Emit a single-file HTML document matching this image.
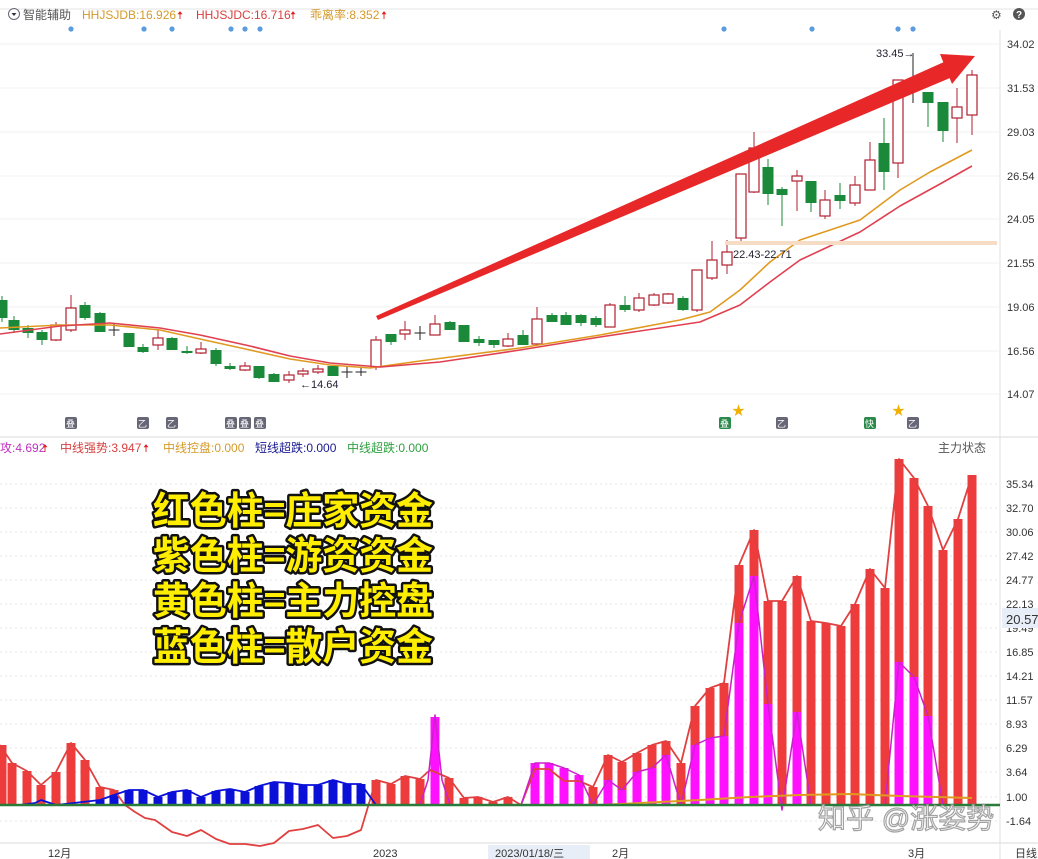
<!DOCTYPE html>
<html><head><meta charset="utf-8"><style>
html,body{margin:0;padding:0;background:#fff;width:1038px;height:859px;overflow:hidden}
svg{display:block;font-family:"Liberation Sans","Noto Sans CJK SC",sans-serif}
</style></head><body>
<svg id="s" width="1038" height="859" xmlns="http://www.w3.org/2000/svg">
<rect width="1038" height="859" fill="#fff"/>
<line x1="0" y1="9" x2="1038" y2="9" stroke="#e4e4e4"/>
<line x1="0" y1="437" x2="1038" y2="437" stroke="#d8d8d8"/>
<line x1="0" y1="843" x2="1038" y2="843" stroke="#d8d8d8"/>
<line x1="1000" y1="30" x2="1000" y2="859" stroke="#e0e0e0"/>
<g id="grid"></g>
<circle cx="14" cy="14" r="5.5" fill="none" stroke="#667"/><path d="M11.5 13 L16.5 13 L14 16 Z" fill="#334"/>
<text x="23" y="19" font-size="12" fill="#555">智能辅助</text>
<text x="82" y="19" font-size="12" fill="#d49a2a">HHJSJDB:16.926</text><text x="177" y="19" font-size="11" fill="#e02020">🠅</text>
<text x="196" y="19" font-size="12" fill="#d84040">HHJSJDC:16.716</text><text x="290" y="19" font-size="11" fill="#e02020">🠅</text>
<text x="310" y="19" font-size="12" fill="#d49a2a">乖离率:8.352</text><text x="381" y="19" font-size="11" fill="#e02020">🠅</text>
<g font-size="12" fill="#555"><text x="991" y="19">⚙</text></g>
<circle cx="1019" cy="14" r="6" fill="#555"/><text x="1016" y="18" font-size="10" fill="#fff" font-weight="bold">?</text>
<g id="stars" fill="#5b9be0" font-size="10"></g>
<g id="topg"></g>
<text x="733" y="258" font-size="11" fill="#223">22.43-22.71</text>
<text x="876" y="57" font-size="11" fill="#223">33.45→</text>
<text x="300" y="388" font-size="11" fill="#223">←14.64</text>
<rect x="725" y="241" width="272" height="4" fill="#f6dcc4"/>
<g font-size="11" fill="#333" id="yl"></g>
<text x="0" y="452" font-size="12" fill="#c030c0">攻:4.692</text><text x="42" y="452" font-size="11" fill="#e02020">🠅</text>
<text x="60" y="452" font-size="12" fill="#d84040">中线强势:3.947</text><text x="143" y="452" font-size="11" fill="#e02020">🠅</text>
<text x="163" y="452" font-size="12" fill="#d49a2a">中线控盘:0.000</text>
<text x="255" y="452" font-size="12" fill="#1a1a90">短线超跌:0.000</text>
<text x="347" y="452" font-size="12" fill="#30a040">中线超跌:0.000</text>
<text x="938" y="452" font-size="12" fill="#555">主力状态</text>
<g id="botg"></g>
<rect x="1002" y="608" width="36" height="20" fill="#e8eef8"/>
<text x="1006" y="624" font-size="13" fill="#333">20.57</text>
<g font-size="38" font-weight="bold" fill="#ffee00" stroke="#111" stroke-width="5" paint-order="stroke" stroke-linejoin="round" font-family="'Noto Sans CJK SC',sans-serif">
<text x="153" y="524" textLength="280" lengthAdjust="spacingAndGlyphs">红色柱=庄家资金</text>
<text x="153" y="569" textLength="280" lengthAdjust="spacingAndGlyphs">紫色柱=游资资金</text>
<text x="153" y="614" textLength="280" lengthAdjust="spacingAndGlyphs">黄色柱=主力控盘</text>
<text x="153" y="660" textLength="280" lengthAdjust="spacingAndGlyphs">蓝色柱=散户资金</text>
</g>
<text x="818" y="828" font-size="28" fill="#fff" stroke="#999" stroke-width="1.2" opacity="0.9">知乎 @涨姿势</text>
<g font-size="11" fill="#333">
<text x="48" y="857">12月</text><text x="373" y="857">2023</text>
<rect x="488" y="845" width="102" height="14" fill="#e8eef8"/><text x="495" y="857">2023/01/18/三</text>
<text x="612" y="857">2月</text><text x="908" y="857">3月</text><text x="1015" y="857">日线</text>
</g>
</svg>
<script>
(function(){
const NS="http://www.w3.org/2000/svg";
function el(p,t,a){const e=document.createElementNS(NS,t);for(const k in a)e.setAttribute(k,a[k]);p.appendChild(e);return e;}
const tg=document.getElementById('topg'),bg=document.getElementById('botg'),grid=document.getElementById('grid'),yl=document.getElementById('yl');
const tl=[[44,"34.02"],[88,"31.53"],[132,"29.03"],[176,"26.54"],[219,"24.05"],[263,"21.55"],[307,"19.06"],[351,"16.56"],[394,"14.07"]];
tl.forEach(([y,t])=>{el(grid,'line',{x1:0,x2:1000,y1:y,y2:y,stroke:'#f0f0f0'});el(yl,'text',{x:1007,y:y+4}).textContent=t;});
const bl=[[484,"35.34"],[508,"32.70"],[532,"30.06"],[556,"27.42"],[580,"24.77"],[604,"22.13"],[628,"19.49"],[652,"16.85"],[676,"14.21"],[700,"11.57"],[724,"8.93"],[748,"6.29"],[772,"3.64"],[797,"1.00"],[821,"-1.64"]];
bl.forEach(([y,t])=>{el(grid,'line',{x1:0,x2:1000,y1:y,y2:y,stroke:'#e6e6e6','stroke-dasharray':'2,3'});el(yl,'text',{x:1006,y:y+4}).textContent=t;});
[71,144,172,231,245,260,724,812,898,913].forEach(x=>{el(document.getElementById('stars'),'circle',{cx:x,cy:29,r:2.6,fill:'#5b9be0'});});
const C=[[2,300,318,296,322,'g'],[14,320,330,316,333,'g'],[28,328,333,325,338,'g'],[42,332,340,330,345,'g'],[56,325,340,322,341,'r'],[71,308,330,295,332,'r'],[85,305,318,302,320,'g'],[100,313,332,312,332,'g'],[114,329,331,323,336,'c'],[129,333,347,333,347,'g'],[143,347,352,344,353,'g'],[158,338,345,330,350,'r'],[172,338,350,337,350,'g'],[187,351,353,346,354,'g'],[201,349,353,342,354,'r'],[216,350,364,348,366,'g'],[230,366,369,363,370,'g'],[245,366,370,362,371,'r'],[259,366,378,366,379,'g'],[274,374,382,373,382,'g'],[289,375,380,371,383,'r'],[303,371,374,368,377,'r'],[318,369,372,365,374,'r'],[333,366,376,366,376,'g'],[347,371,373,366,378,'c'],[361,371,373,368,376,'c'],[376,340,367,336,370,'r'],[391,334,342,334,345,'g'],[405,330,334,321,340,'r'],[420,332,334,326,340,'c'],[435,324,335,315,335,'r'],[450,322,330,321,330,'g'],[464,325,342,325,342,'g'],[479,339,343,336,346,'g'],[494,340,345,340,348,'g'],[508,339,346,333,347,'r'],[523,335,345,330,345,'g'],[537,319,344,307,346,'r'],[552,315,322,313,322,'g'],[566,315,325,312,325,'g'],[581,315,323,314,326,'g'],[596,318,325,316,327,'g'],[610,305,327,303,327,'r'],[625,305,310,296,312,'g'],[639,298,310,293,312,'r'],[654,295,305,293,306,'r'],[668,294,303,293,304,'r'],[683,298,310,296,311,'g'],[697,270,310,270,312,'r'],[712,260,278,241,280,'r'],[727,252,265,240,274,'r'],[741,174,238,174,241,'r'],[754,148,192,132,193,'r'],[768,167,194,159,205,'g'],[782,189,195,187,226,'g'],[797,176,181,170,211,'r'],[811,181,203,181,212,'g'],[825,200,216,190,219,'r'],[840,195,201,183,209,'g'],[855,185,203,176,206,'r'],[870,160,190,142,190,'r'],[884,143,172,118,190,'g'],[898,80,163,80,178,'r'],[913,86,88,53,103,'c'],[928,92,103,92,127,'g'],[943,102,131,102,142,'g'],[957,107,118,88,143,'r'],[972,75,115,70,135,'r']];
C.forEach(([x,a,b,h,l,t])=>{
 if(t=='g'){el(tg,'line',{x1:x,x2:x,y1:h,y2:l,stroke:'#1a8a3a'});el(tg,'rect',{x:x-5.5,y:a,width:11,height:Math.max(b-a,2),fill:'#1a8a3a'});}
 else if(t=='c'){el(tg,'line',{x1:x,x2:x,y1:h,y2:l,stroke:'#222'});el(tg,'line',{x1:x-5.5,x2:x+5.5,y1:a+1,y2:a+1,stroke:'#222'});}
 else{el(tg,'line',{x1:x,x2:x,y1:h,y2:a,stroke:'#b02030'});el(tg,'line',{x1:x,x2:x,y1:b,y2:l,stroke:'#b02030'});el(tg,'rect',{x:x-5,y:a,width:10,height:Math.max(b-a,2),fill:'#fff',stroke:'#b02030','stroke-width':1.2});}
});
function pl(g,pts,col,w){el(g,'polyline',{points:pts.map(p=>p.join(',')).join(' '),fill:'none',stroke:col,'stroke-width':w,'stroke-linejoin':'round'});}
pl(tg,[[0,328],[60,325],[110,325],[160,330],[200,339],[250,350],[290,359],[330,365],[370,368],[420,361],[520,348],[600,335],[680,320],[710,312],[740,290],[770,262],[800,240],[860,220],[900,190],[930,172],[972,150]],'#e09a20',1.6);
pl(tg,[[0,334],[60,326],[110,323],[160,328],[200,335],[250,346],[290,356],[330,363],[380,367],[440,362],[520,350],[600,337],[700,322],[740,305],[770,282],[800,260],[860,232],[900,206],[940,184],[972,166]],'#e04050',1.6);
el(tg,'polygon',{points:'376,316 944,62 950,78 378,320',fill:'#e82828'});
el(tg,'polygon',{points:'940,54 975,56 952,84',fill:'#e82828'});
[[71,'叠'],[143,'乙'],[172,'乙'],[231,'叠'],[245,'叠'],[260,'叠'],[725,'叠'],[782,'乙'],[870,'快'],[913,'乙']].forEach(([x,t])=>{el(tg,'rect',{x:x-6,y:417,width:12,height:12,rx:2,fill:x==725||x==870?'#2a8a4a':'#667'});const e=el(tg,'text',{x:x-5,y:427,'font-size':9,fill:'#fff'});e.textContent=t;});
[738,898].forEach(x=>{const e=el(tg,'text',{x:x-6,y:415,'font-size':13,fill:'#f0b000'});e.textContent='★';});
const Z=805;
const R=[[2,745],[12,763],[27,771],[41,785],[56,772],[71,743],[85,760],[100,787],[114,790],[376,780],[391,784],[405,776],[420,779],[449,778],[464,798],[478,797],[493,802],[508,797],[593,787],[608,755],[622,762],[637,753],[652,745],[666,741],[681,763],[695,706],[710,688],[724,683],[739,565],[754,530],[768,601],[782,601],[797,576],[811,621],[826,623],[841,626],[855,604],[870,569],[885,588],[899,459],[914,478],[928,506],[943,550],[958,519],[972,475]];
R.forEach(([x,y])=>el(bg,'rect',{x:x-4.5,y:y,width:9,height:Z-y,fill:'#ee3b3b'}));
const B=[[100,800],[114,795],[129,790],[143,790],[158,797],[172,792],[187,790],[201,797],[216,791],[230,789],[245,792],[259,786],[274,782],[289,783],[303,785],[318,785],[333,780],[347,784],[361,784]];
B.forEach(([x,y])=>el(bg,'rect',{x:x-4.5,y:y,width:9,height:Z-y,fill:'#0a10d8'}));
const M=[[435,717],[535,763],[549,763],[564,768],[579,775],[608,780],[622,790],[637,772],[652,768],[666,755],[695,745],[710,738],[724,736],[739,623],[754,576],[768,704],[797,712],[899,662],[914,677],[928,716]];
M.forEach(([x,y])=>el(bg,'rect',{x:x-4.5,y:y,width:9,height:Z-y,fill:'#ff10ff'}));
pl(bg,[[0,745],[12,763],[27,771],[41,785],[56,772],[71,743],[85,760],[100,787],[114,790],[125,805],[135,812],[145,818],[155,820],[172,832],[187,836],[201,830],[216,839],[230,844],[245,844],[260,846],[274,843],[289,831],[303,829],[318,825],[333,838],[347,836],[361,830],[376,780],[391,784],[405,776],[420,779],[430,770],[449,778],[464,798],[478,797],[493,802],[508,797],[521,805],[535,769],[549,769],[564,781],[579,781],[593,787],[608,755],[622,762],[637,753],[652,745],[666,741],[681,763],[695,706],[710,688],[724,683],[739,565],[754,530],[768,601],[782,601],[797,576],[811,621],[826,623],[841,626],[855,604],[870,569],[885,588],[899,459],[914,478],[928,506],[943,550],[958,519],[972,475]],'#e04040',1.8);
pl(bg,[[20,805],[35,803],[41,800],[56,805],[100,800],[114,795],[129,790],[143,790],[158,797],[172,792],[187,790],[201,797],[216,791],[230,789],[245,792],[259,786],[274,782],[289,783],[303,785],[318,785],[333,780],[347,784],[361,784],[376,805]],'#0a10d8',1.8);
pl(bg,[[420,805],[428,780],[435,715],[442,780],[450,805]],'#cc20cc',1.5);
pl(bg,[[521,805],[535,763],[549,763],[564,768],[579,775],[593,805],[608,780],[622,790],[637,772],[652,768],[666,755],[681,805],[695,745],[710,738],[724,736],[739,623],[754,576],[768,704],[782,810],[797,712],[811,805],[885,805],[899,662],[914,677],[928,716],[943,805]],'#cc20cc',1.5);
pl(bg,[[600,805],[700,800],[750,797],[800,795],[850,794],[900,796],[972,798]],'#e09a20',2);
el(bg,'line',{x1:0,x2:1000,y1:Z,y2:Z,stroke:'#2a7a3a','stroke-width':2.5});
})();
</script>
</body></html>
